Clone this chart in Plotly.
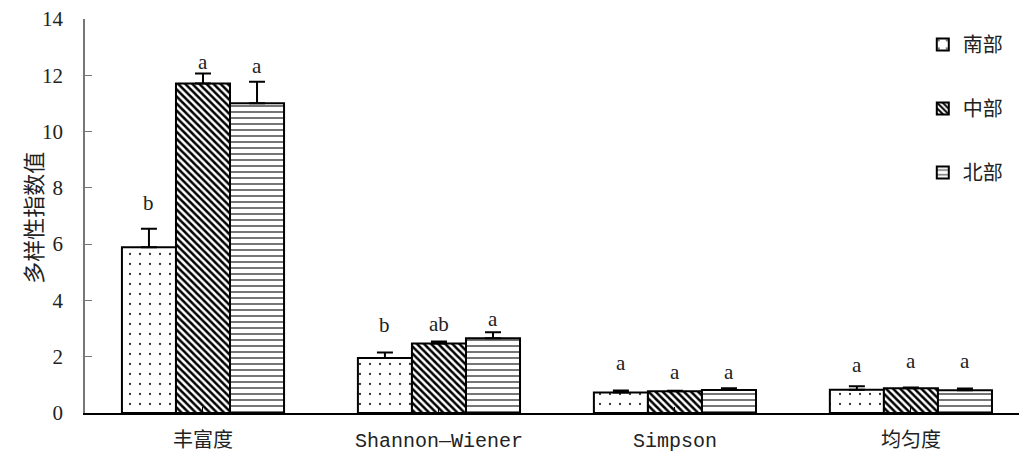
import plotly.graph_objects as go

# Diversity indices by region
categories = ["丰富度", "Shannon—Wiener", "Simpson", "均匀度"]
regions = ["南部", "中部", "北部"]

south_vals = [5.89, 1.95, 0.73, 0.83]
middle_vals = [11.71, 2.47, 0.77, 0.88]
north_vals = [11.01, 2.66, 0.82, 0.81]

south_err = [0.66, 0.20, 0.07, 0.12]
middle_err = [0.35, 0.07, 0.02, 0.03]
north_err = [0.76, 0.21, 0.06, 0.06]

# significance letters and the height where each sits
south_letters = ["b", "b", "a", "a"]
middle_letters = ["a", "ab", "a", "a"]
north_letters = ["a", "a", "a", "a"]
south_letter_y = [7.46, 3.12, 1.77, 1.72]
middle_letter_y = [12.46, 3.15, 1.45, 1.85]
north_letter_y = [12.34, 3.33, 1.45, 1.85]

y_ticks = [0, 2, 4, 6, 8, 10, 12, 14]
y_title = "多样性指数值"

MONO = "Liberation Mono, Noto Sans CJK SC"
SERIF = "Liberation Serif, Noto Sans CJK SC"

series = [
    (regions[0], south_vals, south_err, dict(shape=".", size=10, solidity=0.04, fgcolor="#333")),
    (regions[1], middle_vals, middle_err, dict(shape="\\", size=5, solidity=0.5, fgcolor="black")),
    (regions[2], north_vals, north_err, dict(shape="-", size=6, solidity=0.3, fgcolor="#666")),
]

fig = go.Figure()
for name, vals, errs, pat in series:
    fig.add_trace(go.Bar(
        x=list(range(len(categories))),
        y=vals,
        name=name,
        legendgroup=name,
        marker=dict(
            color="white",
            line=dict(color="black", width=2),
            pattern=dict(bgcolor="white", fillmode="replace", **pat),
        ),
        error_y=dict(type="data", array=errs, arrayminus=[0] * len(errs),
                     symmetric=False, color="black", thickness=2, width=8),
    ))

offsets = [-1, 0, 1]
bar_w = (1 - 0.313) / 3
for off, letters, ys in zip(offsets, [south_letters, middle_letters, north_letters],
                            [south_letter_y, middle_letter_y, north_letter_y]):
    for ci, (t, yv) in enumerate(zip(letters, ys)):
        fig.add_annotation(x=ci + off * bar_w, y=yv, text=t, showarrow=False,
                           xanchor="center", yanchor="middle",
                           font=dict(family=SERIF, size=21, color="#222"))

# vertical axis title
fig.add_annotation(xref="paper", yref="paper", x=-0.057, y=0.495, text=y_title,
                   textangle=-90, showarrow=False, xanchor="center", yanchor="middle",
                   font=dict(family="Noto Sans CJK SC", size=22, color="#222"))

fig.update_layout(
    width=1019, height=454,
    margin=dict(l=85, r=0, t=19, b=41),
    plot_bgcolor="white", paper_bgcolor="white",
    barmode="group", bargap=0.313, bargroupgap=0,
    showlegend=True,
    legend=dict(x=0.897, xanchor="left", y=0.985, yanchor="top",
                font=dict(family=MONO, size=20, color="#222"),
                tracegroupgap=35, bgcolor="rgba(0,0,0,0)"),
    font=dict(family=MONO, color="#222"),
)
fig.update_xaxes(
    range=[-0.5, 3.458],
    tickmode="array", tickvals=list(range(len(categories))), ticktext=categories,
    tickson="boundaries", ticks="inside", ticklen=6, tickcolor="black",
    showline=True, linecolor="black", linewidth=1.5,
    showgrid=False, zeroline=False,
    tickfont=dict(family=MONO, size=20, color="#222"),
    ticklabelstandoff=8,
)
fig.update_yaxes(
    range=[0, 14], tickmode="array", tickvals=y_ticks,
    ticks="inside", ticklen=7, tickcolor="#777",
    showline=True, linecolor="#777", linewidth=1.5,
    showgrid=False, zeroline=False,
    tickfont=dict(family=SERIF, size=21, color="#222"),
    ticklabelstandoff=16,
)

fig.write_html("out.html")
